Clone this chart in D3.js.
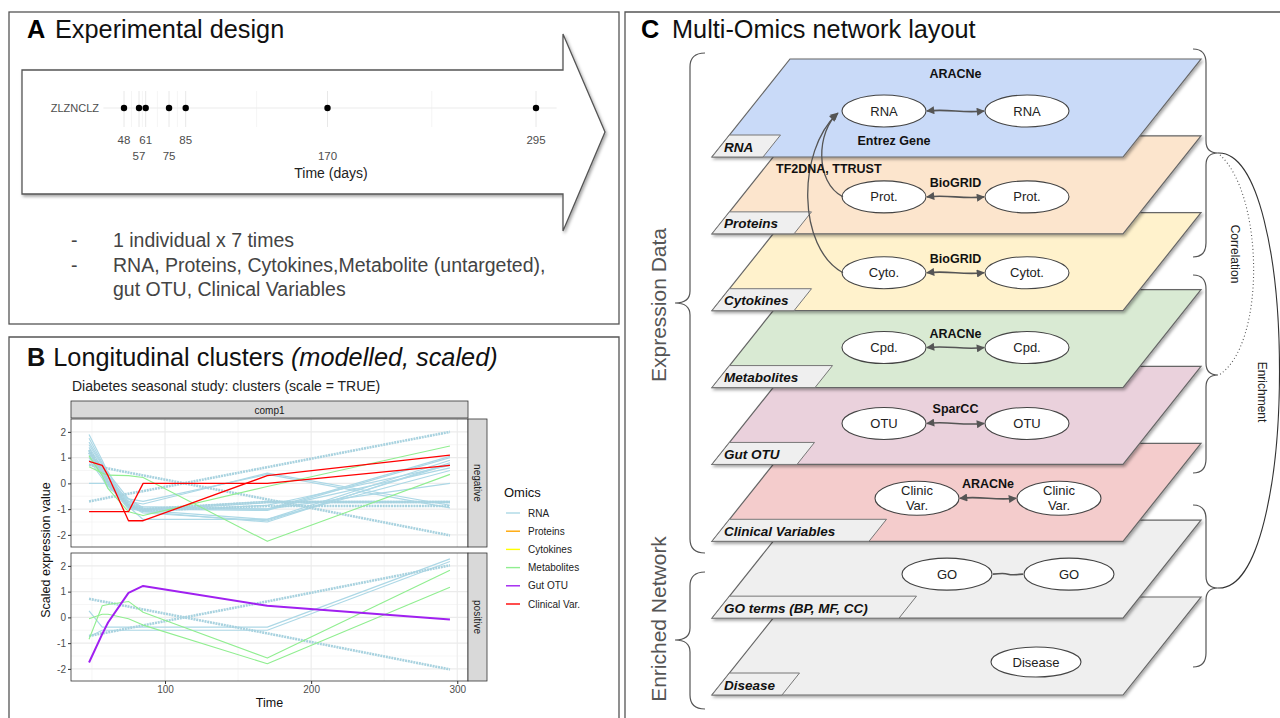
<!DOCTYPE html>
<html>
<head>
<meta charset="utf-8">
<script src="https://cdn.jsdelivr.net/npm/d3@7"></script>
<style>
body { margin: 0; background: #fff; }
svg { display: block; font-family: "Liberation Sans", Arial, sans-serif; }
.narrow { font-family: "Liberation Sans Narrow", "Liberation Sans", Arial, sans-serif; }
</style>
</head>
<body>
<svg id="fig" width="1280" height="718"></svg>
<script>
// ---------- panel A data: sampling design
var sampleTimes = [48, 57, 61, 75, 85, 170, 295];
var sampleId = "ZLZNCLZ";
var designNotes = ["1 individual x 7 times", "RNA, Proteins, Cytokines,Metabolite (untargeted),", "gut OTU, Clinical Variables"];

// ---------- panel B data: modelled, scaled profiles (values at sampleTimes)
var omicsNames = ["RNA", "Proteins", "Cytokines", "Metabolites", "Gut OTU", "Clinical Var."];
var omicsColors = ["#add8e6", "#ffa500", "#ffff00", "#90ee90", "#a020f0", "#ff0000"];
var yTicksB = [-2, -1, 0, 1, 2];
var xTicksB = [100, 200, 300];

var negRNA = [
  [1.9, 0.9, 0.4, -0.6, -0.95, -1.0, 1.05],
  [1.75, 0.8, 0.3, -0.7, -1.0, -1.05, 1.0],
  [1.6, 0.75, 0.25, -0.75, -1.05, -1.4, 0.9],
  [1.5, 0.7, 0.2, -0.8, -1.1, -1.5, 0.8],
  [1.4, 0.6, 0.1, -0.85, -1.15, -1.45, 0.75],
  [1.3, 0.5, 0.05, -0.9, -1.1, -0.85, 0.7],
  [1.25, 0.45, 0.0, -0.95, -1.0, -0.7, -0.7],
  [1.2, 0.4, -0.05, -1.0, -1.05, -0.75, -0.75],
  [1.1, 0.35, -0.1, -0.85, -0.9, -1.0, 0.6],
  [1.0, 0.3, -0.1, -0.7, -0.8, 0.4, -0.85],
  [0.9, 0.2, -0.2, -0.6, -0.7, 0.35, -0.95],
  [0.0, 0.0, 0.0, -0.6, -1.0, -1.0, 0.0],
  [0.75, 0.55, 0.45, -0.9, -1.4, -1.4, 0.5]
];
// many near-identical RNA features drawn on top of each other
var negRNABundle = [
  [-0.7, -0.6, -0.55, -0.4, -0.3, 0.63, 2.0],
  [0.72, 0.62, 0.58, 0.42, 0.31, -0.62, -2.02],
  [1.3, 0.55, 0.1, -0.85, -1.0, -0.72, -0.72],
  [1.2, 0.45, 0.0, -0.9, -1.05, -0.88, -0.88]
];
var negMetab = [
  [1.07, 0.3, -0.2, -1.1, -1.25, -0.12, 1.45],
  [0.65, 0.4, 0.32, 0.3, 0.23, -2.25, 0.35]
];
var negClinical = [
  [-1.1, -1.1, -1.1, -1.1, 0.0, 0.0, 0.7],
  [0.85, 0.7, 0.3, -1.45, -1.45, 0.3, 1.1]
];
var posRNA = [
  [0.25, -0.38, -0.38, -0.38, -0.38, -0.38, 2.27],
  [-0.75, -0.5, -0.5, -0.5, -0.5, -0.5, 2.17]
];
var posRNABundle = [
  [0.72, 0.62, 0.58, 0.42, 0.31, -0.62, -2.02],
  [-0.72, -0.62, -0.58, -0.42, -0.31, 0.62, 2.02]
];
var posMetab = [
  [-0.05, 0.12, 0.12, -0.05, -0.3, -1.8, 1.17],
  [-0.85, 0.45, 0.5, 0.62, 0.2, -1.58, 1.83]
];
var posGutOTU = [
  [-1.75, -0.65, -0.2, 0.95, 1.22, 0.45, -0.08]
];

// ---------- panel C data: network layers
var layerNames = ["RNA", "Proteins", "Cytokines", "Metabolites", "Gut OTU", "Clinical Variables", "GO terms (BP, MF, CC)", "Disease"];
var layerFills = ["#c9daf8", "#fce5cd", "#fff2cc", "#d9ead3", "#ead1dc", "#f4cccc", "#efefef", "#efefef"];
var nodeLabels = [["RNA", "RNA"], ["Prot.", "Prot."], ["Cyto.", "Cytot."], ["Cpd.", "Cpd."], ["OTU", "OTU"], ["Clinic\nVar.", "Clinic\nVar."], ["GO", "GO"], ["Disease"]];
var edgeSources = ["ARACNe", "BioGRID", "BioGRID", "ARACNe", "SparCC", "ARACNe", "", ""];
var crossLabels = ["Entrez Gene", "TF2DNA, TTRUST"];

var svg = d3.select("#fig");
var defs = svg.append("defs");
var sh = defs.append("filter").attr("id", "shadow")
  .attr("x", "-5%").attr("y", "-10%").attr("width", "115%").attr("height", "130%");
sh.append("feDropShadow").attr("dx", 1.5).attr("dy", 2).attr("stdDeviation", 1.8)
  .attr("flood-color", "#000").attr("flood-opacity", 0.35);
defs.append("marker").attr("id", "head").attr("viewBox", "0 0 10 10")
  .attr("refX", 9).attr("refY", 5).attr("markerWidth", 9).attr("markerHeight", 8)
  .attr("markerUnits", "userSpaceOnUse").attr("orient", "auto-start-reverse")
  .append("path").attr("d", "M0,0L10,5L0,10z").attr("fill", "#555");

// ================= panel A =================
var gA = svg.append("g");
gA.append("rect").attr("x", 9).attr("y", 12).attr("width", 610).attr("height", 312)
  .attr("fill", "none").attr("stroke", "#555").attr("stroke-width", 1.3);
gA.append("text").attr("x", 27).attr("y", 38).attr("font-size", 25.3).attr("font-weight", "bold").text("A");
gA.append("text").attr("x", 55).attr("y", 38).attr("font-size", 25.3).attr("fill", "#111").text("Experimental design");

gA.append("path")
  .attr("d", "M22,70 L563,70 L563,34 L605,132 L563,231 L563,194 L22,194 Z")
  .attr("fill", "#fff").attr("stroke", "#555").attr("stroke-width", 1.3).attr("filter", "url(#shadow)");

var xA = d3.scaleLinear().domain([48, 295]).range([124, 536]);
var padA = (295 - 48) * 0.05;
var minorA = d3.pairs(sampleTimes).map(function (p) { return (p[0] + p[1]) / 2; });
gA.selectAll(".minA").data(minorA).enter().append("line")
  .attr("x1", function (d) { return xA(d); }).attr("x2", function (d) { return xA(d); })
  .attr("y1", 91).attr("y2", 127).attr("stroke", "#f2f2f2").attr("stroke-width", 0.8);
gA.selectAll(".majA").data(sampleTimes).enter().append("line")
  .attr("x1", function (d) { return xA(d); }).attr("x2", function (d) { return xA(d); })
  .attr("y1", 91).attr("y2", 127).attr("stroke", "#e8e8e8").attr("stroke-width", 1);
gA.append("line").attr("x1", xA(48 - padA)).attr("x2", xA(295 + padA)).attr("y1", 108).attr("y2", 108)
  .attr("stroke", "#ebebeb").attr("stroke-width", 1.2);
gA.selectAll(".ptA").data(sampleTimes).enter().append("circle")
  .attr("cx", function (d) { return xA(d); }).attr("cy", 108).attr("r", 3.2).attr("fill", "#000");
gA.append("text").attr("x", 99).attr("y", 112).attr("text-anchor", "end")
  .attr("font-size", 11).attr("fill", "#4d4d4d").text(sampleId);
gA.selectAll(".tkA").data(sampleTimes).enter().append("text")
  .attr("x", function (d) { return xA(d); })
  .attr("y", function (d, i) { return i % 2 === 0 ? 144 : 160; })
  .attr("text-anchor", "middle").attr("font-size", 11.5).attr("fill", "#4d4d4d")
  .text(function (d) { return d; });
gA.append("text").attr("x", xA((48 + 295) / 2) + 1).attr("y", 178).attr("text-anchor", "middle")
  .attr("font-size", 14).attr("fill", "#222").text("Time (days)");

designNotes.forEach(function (t, i) {
  var y = 247 + i * 24.5;
  if (i < 2) gA.append("text").attr("x", 71).attr("y", y).attr("font-size", 19.5).attr("fill", "#444").text("-");
  gA.append("text").attr("x", 113).attr("y", y).attr("font-size", 19.5).attr("fill", "#444").text(t);
});

// ================= panel B =================
var gB = svg.append("g");
gB.append("path").attr("d", "M9,718 L9,337 L619,337 L619,718")
  .attr("fill", "none").attr("stroke", "#555").attr("stroke-width", 1.3);
var tB = gB.append("text").attr("x", 27).attr("y", 366).attr("font-size", 25.3).attr("fill", "#111");
tB.append("tspan").attr("font-weight", "bold").text("B");
tB.append("tspan").attr("dx", 8).text("Longitudinal clusters ");
tB.append("tspan").attr("font-style", "italic").text("(modelled, scaled)");
gB.append("text").attr("x", 72).attr("y", 391).attr("font-size", 14).attr("fill", "#222")
  .text("Diabetes seasonal study: clusters (scale = TRUE)");

var padB = (295 - 48) * 0.05;
var xB = d3.scaleLinear().domain([48 - padB, 295 + padB]).range([71, 468]);
var panelH = 128;
var facets = [
  { name: "negative", top: 419, series: [
    { omic: "RNA", lines: negRNA, w: 1.2 },
    { omic: "RNA", lines: negRNABundle, w: 2.6, bundle: true },
    { omic: "Metabolites", lines: negMetab, w: 1.1 },
    { omic: "Clinical Var.", lines: negClinical, w: 1.3 }
  ] },
  { name: "positive", top: 553, series: [
    { omic: "RNA", lines: posRNA, w: 1.2 },
    { omic: "RNA", lines: posRNABundle, w: 2.6, bundle: true },
    { omic: "Metabolites", lines: posMetab, w: 1.1 },
    { omic: "Gut OTU", lines: posGutOTU, w: 2 }
  ] }
];

// top strip
gB.append("rect").attr("x", 71).attr("y", 401).attr("width", 397).attr("height", 17)
  .attr("fill", "#d9d9d9").attr("stroke", "#333").attr("stroke-width", 0.8);
gB.append("text").attr("x", 269.5).attr("y", 413.5).attr("text-anchor", "middle")
  .attr("font-size", 10).attr("fill", "#1a1a1a").text("comp1");

facets.forEach(function (f, fi) {
  var y = d3.scaleLinear().domain([-2.47, 2.5]).range([f.top + panelH, f.top]);
  var g = gB.append("g");
  g.append("rect").attr("x", 71).attr("y", f.top).attr("width", 397).attr("height", panelH).attr("fill", "#fff");
  var minorX = [50, 150, 250], minorY = [-1.5, -0.5, 0.5, 1.5];
  g.selectAll(".mx").data(minorX).enter().append("line")
    .attr("x1", function (d) { return xB(d); }).attr("x2", function (d) { return xB(d); })
    .attr("y1", f.top).attr("y2", f.top + panelH).attr("stroke", "#f0f0f0").attr("stroke-width", 0.6);
  g.selectAll(".my").data(minorY).enter().append("line")
    .attr("y1", function (d) { return y(d); }).attr("y2", function (d) { return y(d); })
    .attr("x1", 71).attr("x2", 468).attr("stroke", "#f0f0f0").attr("stroke-width", 0.6);
  g.selectAll(".gx").data(xTicksB).enter().append("line")
    .attr("x1", function (d) { return xB(d); }).attr("x2", function (d) { return xB(d); })
    .attr("y1", f.top).attr("y2", f.top + panelH).attr("stroke", "#ebebeb").attr("stroke-width", 1.1);
  g.selectAll(".gy").data(yTicksB).enter().append("line")
    .attr("y1", function (d) { return y(d); }).attr("y2", function (d) { return y(d); })
    .attr("x1", 71).attr("x2", 468).attr("stroke", "#ebebeb").attr("stroke-width", 1.1);

  var line = d3.line().x(function (d, i) { return xB(sampleTimes[i]); }).y(function (d) { return y(d); });
  f.series.forEach(function (s) {
    var col = omicsColors[omicsNames.indexOf(s.omic)];
    g.selectAll(null).data(s.lines).enter().append("path")
      .attr("d", line).attr("fill", "none")
      .attr("stroke", s.bundle ? "#a8d2df" : col)
      .attr("stroke-width", s.w)
      .attr("stroke-dasharray", s.bundle ? "2,0.8" : null)
      .attr("stroke-linejoin", "round");
  });

  g.append("rect").attr("x", 71).attr("y", f.top).attr("width", 397).attr("height", panelH)
    .attr("fill", "none").attr("stroke", "#333").attr("stroke-width", 0.8);
  // right strip
  g.append("rect").attr("x", 468).attr("y", f.top).attr("width", 19).attr("height", panelH)
    .attr("fill", "#d9d9d9").attr("stroke", "#333").attr("stroke-width", 0.8);
  g.append("text").attr("transform", "translate(474," + (f.top + panelH / 2) + ") rotate(90)")
    .attr("text-anchor", "middle").attr("font-size", 10).attr("fill", "#1a1a1a").text(f.name);

  var ay = g.append("g").attr("transform", "translate(71,0)")
    .call(d3.axisLeft(y).tickValues(yTicksB).tickFormat(function (d) { return String(d); })
      .tickSize(3).tickPadding(2));
  ay.select(".domain").remove();
  ay.selectAll("line").attr("stroke", "#333");
  ay.selectAll("text").attr("font-size", 10).attr("fill", "#4d4d4d").attr("font-family", "Liberation Sans, Arial, sans-serif");

  if (fi === facets.length - 1) {
    var ax = g.append("g").attr("transform", "translate(0," + (f.top + panelH) + ")")
      .call(d3.axisBottom(xB).tickValues(xTicksB).tickFormat(function (d) { return String(d); })
        .tickSize(3).tickPadding(2));
    ax.select(".domain").remove();
    ax.selectAll("line").attr("stroke", "#333");
    ax.selectAll("text").attr("font-size", 10).attr("fill", "#4d4d4d").attr("font-family", "Liberation Sans, Arial, sans-serif");
  }
});

gB.append("text").attr("x", 269.5).attr("y", 707).attr("text-anchor", "middle")
  .attr("font-size", 12.5).attr("fill", "#111").text("Time");
gB.append("text").attr("transform", "translate(50,550) rotate(-90)").attr("text-anchor", "middle")
  .attr("font-size", 12.5).attr("fill", "#111").text("Scaled expression value");

// legend
gB.append("text").attr("x", 504).attr("y", 497).attr("font-size", 13).attr("fill", "#111").text("Omics");
var lg = gB.selectAll(".lg").data(omicsNames).enter().append("g")
  .attr("transform", function (d, i) { return "translate(505," + (513 + i * 18.2) + ")"; });
lg.append("line").attr("x1", 1).attr("x2", 15).attr("stroke", function (d, i) { return omicsColors[i]; })
  .attr("stroke-width", 1.4);
lg.append("text").attr("x", 23).attr("y", 3.5).attr("font-size", 10).attr("fill", "#222")
  .text(function (d) { return d; });

// ================= panel C =================
var gC = svg.append("g");
gC.append("path").attr("d", "M625,718 L625,12 L1280,12").attr("fill", "none")
  .attr("stroke", "#555").attr("stroke-width", 1.3);
gC.append("text").attr("x", 641).attr("y", 38).attr("font-size", 25.3).attr("font-weight", "bold").text("C");
gC.append("text").attr("x", 672).attr("y", 38).attr("font-size", 25.3).attr("fill", "#111").text("Multi-Omics network layout");

var layerY = d3.scaleLinear().domain([0, layerNames.length - 1]).range([59, 597]);
var layerH = 98, skew = 78, topLeft = 790, topW = 411, tabH = 22;
var tabW = [51, 82, 82, 103, 85, 157, 187, 70];
var nodeLayout = [
  { x: [884, 1027], dy: 52, rx: 42, ry: 16 },
  { x: [884, 1027], dy: 61, rx: 42, ry: 16 },
  { x: [884, 1027], dy: 60, rx: 42, ry: 16 },
  { x: [884, 1027], dy: 58, rx: 42, ry: 16 },
  { x: [884, 1027], dy: 57, rx: 42, ry: 16 },
  { x: [917, 1059], dy: 55, rx: 42, ry: 17 },
  { x: [947, 1069], dy: 54, rx: 45, ry: 16 },
  { x: [1036], dy: 65, rx: 45, ry: 15 }
];
var poly = d3.line();

d3.range(layerNames.length - 1, -1, -1).forEach(function (i) {
  var t = layerY(i), b = t + layerH, k = skew / layerH;
  var g = gC.append("g");
  g.append("path").attr("d", poly([[topLeft, t], [topLeft + topW, t], [topLeft + topW - skew, b], [topLeft - skew, b]]) + "Z")
    .attr("fill", layerFills[i]).attr("stroke", "#666").attr("stroke-width", 1.2).attr("filter", "url(#shadow)");
  var bl = topLeft - skew;
  g.append("path").attr("d", poly([[bl, b], [bl + tabW[i], b], [bl + tabW[i] + tabH * k, b - tabH], [bl + tabH * k, b - tabH]]) + "Z")
    .attr("fill", "#efefef").attr("stroke", "#777").attr("stroke-width", 1);
  g.append("text").attr("class", "narrow").attr("x", bl + 12).attr("y", b - 5.5)
    .attr("font-size", 13.5).attr("font-weight", "bold").attr("font-style", "italic").attr("fill", "#111")
    .text(layerNames[i]);

  var nl = nodeLayout[i], cy = t + nl.dy;
  if (nodeLabels[i].length === 2) {
    var x1 = nl.x[0] + nl.rx + 1, x2 = nl.x[1] - nl.rx - 1;
    var edge = g.append("path")
      .attr("d", "M" + x1 + "," + cy + " C" + (x1 + 22) + "," + (cy - 2.5) + " " + (x2 - 22) + "," + (cy + 2.5) + " " + x2 + "," + cy)
      .attr("fill", "none").attr("stroke", "#555").attr("stroke-width", 1.6);
    if (edgeSources[i]) edge.attr("marker-start", "url(#head)").attr("marker-end", "url(#head)");
  }
  if (edgeSources[i]) {
    g.append("text").attr("class", "narrow").attr("x", (nl.x[0] + nl.x[1]) / 2)
      .attr("y", i === 0 ? t + 19 : cy - 10).attr("text-anchor", "middle")
      .attr("font-size", 12.5).attr("font-weight", "bold").attr("fill", "#111").text(edgeSources[i]);
  }
  nodeLabels[i].forEach(function (lab, j) {
    g.append("ellipse").attr("cx", nl.x[j]).attr("cy", cy).attr("rx", nl.rx).attr("ry", nl.ry)
      .attr("fill", "#fff").attr("stroke", "#444").attr("stroke-width", 1.1);
    var parts = lab.split("\n");
    var tx = g.append("text").attr("class", "narrow").attr("x", nl.x[j]).attr("text-anchor", "middle")
      .attr("font-size", 13).attr("fill", "#222");
    parts.forEach(function (p, pi) {
      tx.append("tspan").attr("x", nl.x[j])
        .attr("y", parts.length === 1 ? cy + 4.5 : cy - 3 + pi * 15).text(p);
    });
  });
});

// cross-layer links (Proteins -> RNA, Cytokines -> RNA)
var rnaL = nodeLayout[0], rnaCy = layerY(0) + rnaL.dy;
var protCy = layerY(1) + nodeLayout[1].dy, cytoCy = layerY(2) + nodeLayout[2].dy;
var lx = rnaL.x[0] - rnaL.rx;
gC.append("path")
  .attr("d", "M" + (lx + 1) + "," + protCy + " C" + (lx - 28) + "," + (protCy - 15) + " " + (lx - 25) + "," + (rnaCy + 20) + " " + (lx - 4) + "," + (rnaCy + 2))
  .attr("fill", "none").attr("stroke", "#555").attr("stroke-width", 1.3).attr("marker-end", "url(#head)");
gC.append("path")
  .attr("d", "M" + (lx + 1) + "," + cytoCy + " C" + (lx - 45) + "," + (cytoCy - 25) + " " + (lx - 45) + "," + (rnaCy + 40) + " " + (lx - 5) + "," + (rnaCy + 3))
  .attr("fill", "none").attr("stroke", "#555").attr("stroke-width", 1.3).attr("marker-end", "url(#head)");
gC.append("text").attr("class", "narrow").attr("x", 894).attr("y", 145).attr("text-anchor", "middle")
  .attr("font-size", 12.5).attr("font-weight", "bold").attr("fill", "#111").text(crossLabels[0]);
gC.append("text").attr("class", "narrow").attr("x", 776).attr("y", 173)
  .attr("font-size", 12.5).attr("font-weight", "bold").attr("fill", "#111").text(crossLabels[1]);

// braces
function brace(x0, spine, tip, y0, y1, ym) {
  return "M" + x0 + "," + y0 + " Q" + spine + "," + y0 + " " + spine + "," + (y0 + 14) +
    " L" + spine + "," + (ym - 12) + " Q" + spine + "," + ym + " " + tip + "," + ym +
    " Q" + spine + "," + ym + " " + spine + "," + (ym + 12) +
    " L" + spine + "," + (y1 - 14) + " Q" + spine + "," + y1 + " " + x0 + "," + y1;
}
var braceStyle = function (p) { p.attr("fill", "none").attr("stroke", "#555").attr("stroke-width", 1.2); };
gC.append("path").attr("d", brace(705, 690, 675, 53, 553, 303)).call(braceStyle);
gC.append("path").attr("d", brace(705, 690, 675, 572, 709, 640)).call(braceStyle);
gC.append("path").attr("d", brace(1193, 1206, 1218, 49, 257, 153)).call(braceStyle);
gC.append("path").attr("d", brace(1193, 1206, 1218, 275, 473, 375)).call(braceStyle);
gC.append("path").attr("d", brace(1193, 1206, 1218, 505, 667, 588)).call(braceStyle);

gC.append("text").attr("transform", "translate(666,305) rotate(-90)").attr("text-anchor", "middle")
  .attr("font-size", 21).attr("fill", "#555").text("Expression Data");
gC.append("text").attr("transform", "translate(666,619) rotate(-90)").attr("text-anchor", "middle")
  .attr("font-size", 21).attr("fill", "#555").text("Enriched Network");

// correlation / enrichment arcs
gC.append("path").attr("d", "M1218,153 C1300,150 1300,592 1218,588")
  .attr("fill", "none").attr("stroke", "#333").attr("stroke-width", 1.1);
gC.append("path").attr("d", "M1220,155 C1264,195 1266,345 1219,375")
  .attr("fill", "none").attr("stroke", "#555").attr("stroke-width", 1.1).attr("stroke-dasharray", "1,2.5");
gC.append("text").attr("transform", "translate(1231,254) rotate(90)").attr("text-anchor", "middle")
  .attr("font-size", 12).attr("fill", "#222").text("Correlation");
gC.append("text").attr("transform", "translate(1258,392) rotate(90)").attr("text-anchor", "middle")
  .attr("font-size", 12).attr("fill", "#222").text("Enrichment");
</script>
</body>
</html>
